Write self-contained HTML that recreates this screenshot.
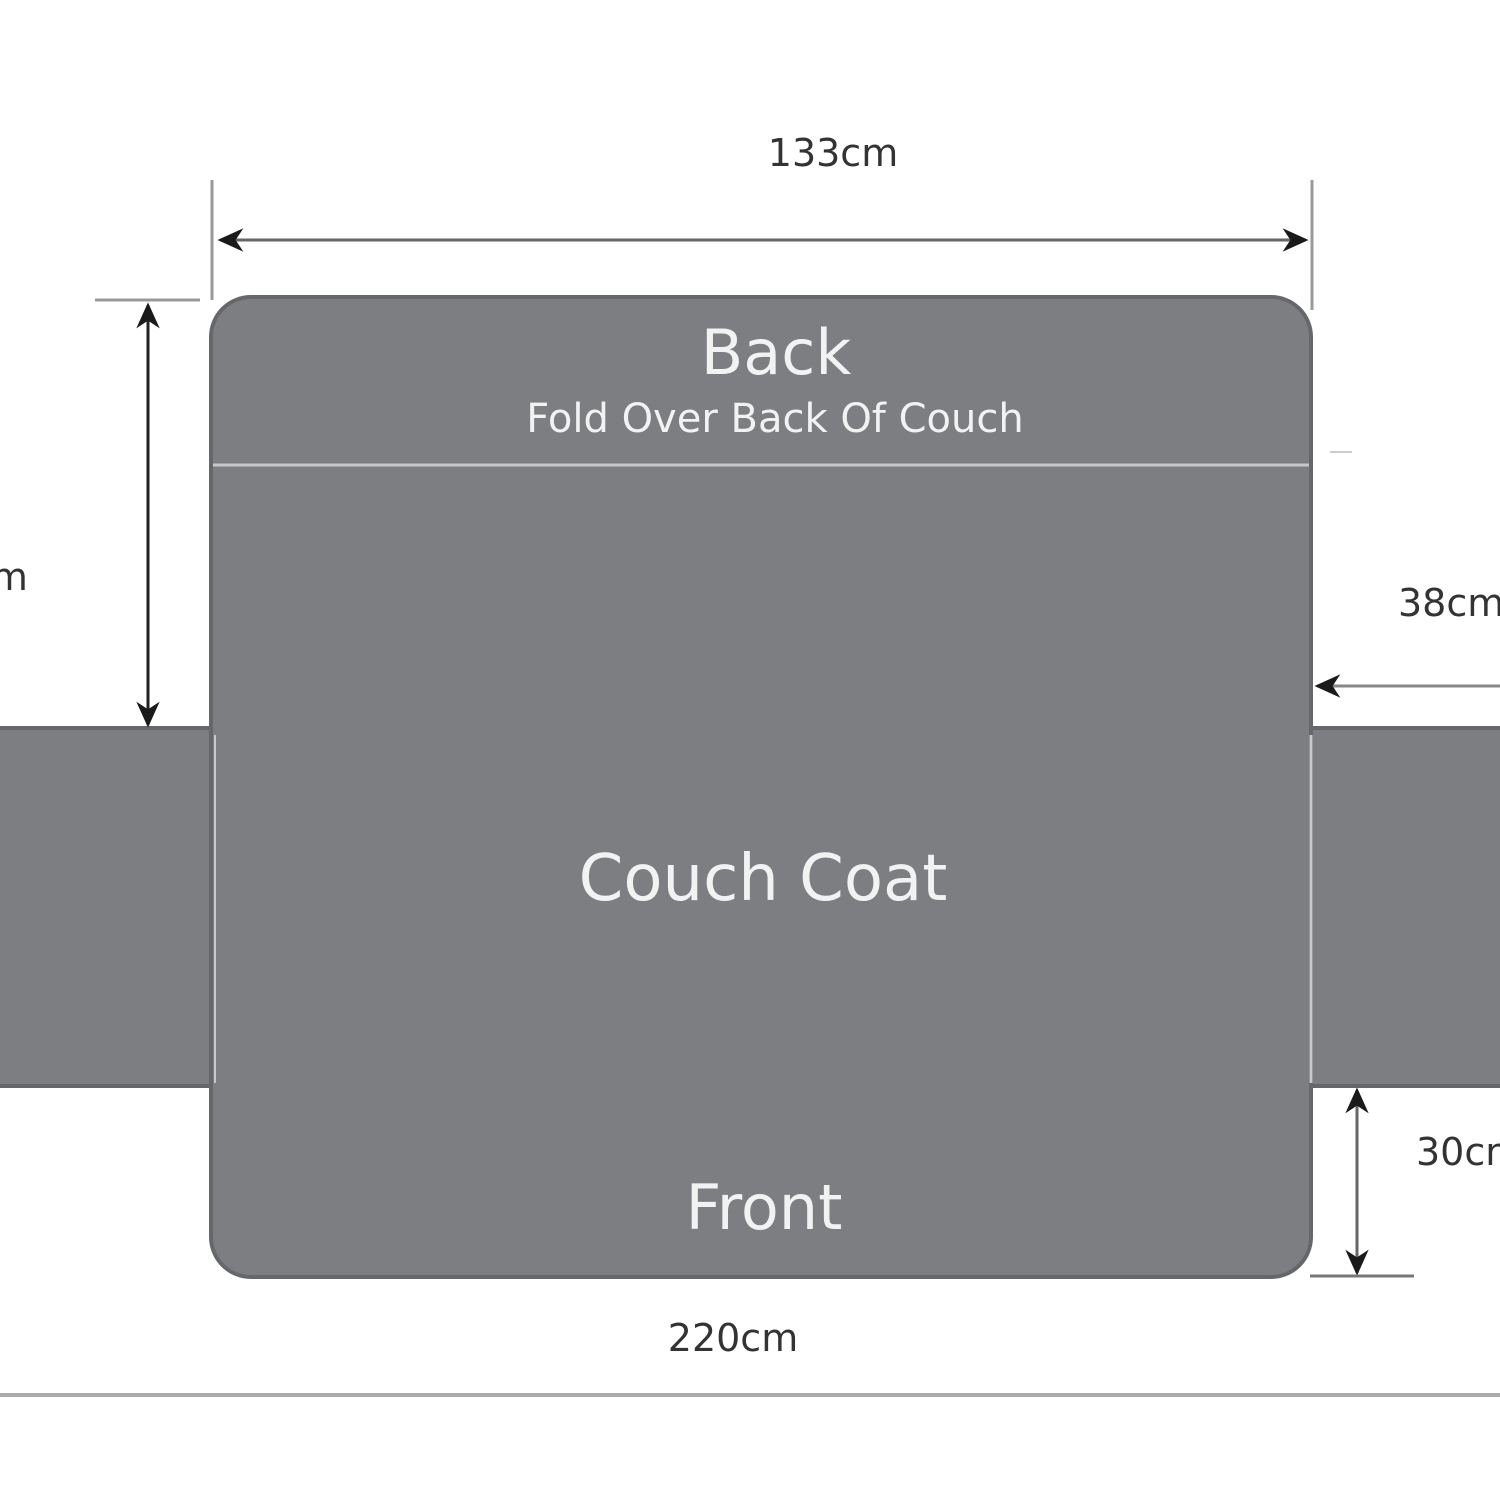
<!DOCTYPE html>
<html><head><style>
body{margin:0;background:#fff;}
svg{display:block}
text{font-family:"DejaVu Sans","Liberation Sans",sans-serif;}
</style></head><body>
<svg width="1500" height="1500" viewBox="0 0 1500 1500">
<defs>
<marker id="a" viewBox="0 0 10 10" refX="9" refY="5" markerWidth="26" markerHeight="26" orient="auto-start-reverse" markerUnits="userSpaceOnUse"><path d="M0,0.5 L10,5 L0,9.5 L3,5 z" fill="#1a1a1a"/></marker>
</defs>
<rect x="0" y="0" width="1500" height="1500" fill="#fff"/>
<rect x="-5" y="728" width="220" height="358" fill="#7d7e82" stroke="#66676b" stroke-width="4"/>
<rect x="1308" y="728" width="200" height="358" fill="#7d7e82" stroke="#66676b" stroke-width="4"/>
<rect x="211" y="297" width="1100" height="980" rx="40" fill="#7d7e82" stroke="#66676b" stroke-width="4"/>
<line x1="213" y1="465" x2="1309" y2="465" stroke="#c8c8cb" stroke-width="3"/>
<line x1="215" y1="735" x2="215" y2="1083" stroke="#c8c8cb" stroke-width="2"/>
<line x1="1311" y1="735" x2="1311" y2="1083" stroke="#c8c8cb" stroke-width="3"/>
<line x1="1330" y1="452" x2="1352" y2="452" stroke="#ccc" stroke-width="2"/>
<text x="776" y="374" font-size="62" fill="#f2f2f2" text-anchor="middle">Back</text>
<text x="775" y="432" font-size="40" fill="#f2f2f2" text-anchor="middle">Fold Over Back Of Couch</text>
<text x="763" y="900" font-size="64" fill="#f2f2f2" text-anchor="middle">Couch Coat</text>
<text x="764" y="1229" font-size="62" fill="#f2f2f2" text-anchor="middle">Front</text>
<text x="833" y="166" font-size="38" fill="#333" text-anchor="middle">133cm</text>
<text x="733" y="1351" font-size="38" fill="#333" text-anchor="middle">220cm</text>
<text x="1398" y="616" font-size="38" fill="#333">38cm</text>
<text x="1416" y="1165" font-size="38" fill="#333">30cm</text>
<text x="-30" y="590" font-size="38" fill="#333">cm</text>
<line x1="212" y1="180" x2="212" y2="300" stroke="#999" stroke-width="3"/>
<line x1="1312" y1="180" x2="1312" y2="310" stroke="#999" stroke-width="3"/>
<line x1="220" y1="240" x2="1306" y2="240" stroke="#666" stroke-width="3" marker-start="url(#a)" marker-end="url(#a)"/>
<line x1="95" y1="300" x2="200" y2="300" stroke="#999" stroke-width="3"/>
<line x1="148" y1="305" x2="148" y2="725" stroke="#222" stroke-width="3" marker-start="url(#a)" marker-end="url(#a)"/>
<line x1="1500" y1="686" x2="1317" y2="686" stroke="#888" stroke-width="3" marker-end="url(#a)"/>
<line x1="1357" y1="1090" x2="1357" y2="1273" stroke="#666" stroke-width="3" marker-start="url(#a)" marker-end="url(#a)"/>
<line x1="1310" y1="1276" x2="1414" y2="1276" stroke="#777" stroke-width="3"/>
<line x1="0" y1="1395" x2="1500" y2="1395" stroke="#aaa" stroke-width="4"/>
</svg>
</body></html>
